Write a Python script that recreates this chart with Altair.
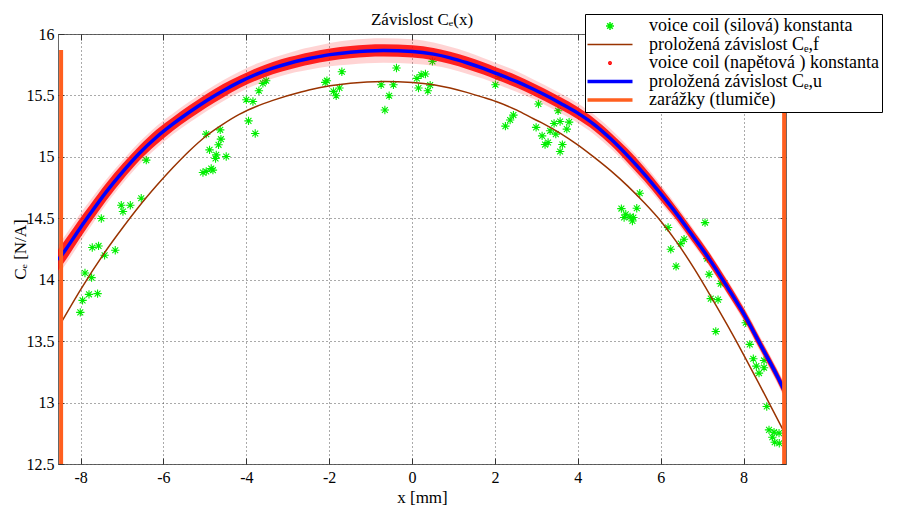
import altair as alt
import pandas as pd

# ---------------- data ----------------
# voice coil (force) constant, measured points
green_x = [-6.415, -7.018, -6.80, -6.977, -6.536, -7.50, -7.566, -7.718, -7.163,
           -4.967, -4.63, -4.613, -4.67, -4.888, -4.726, -4.743, -4.485, -4.847, -4.967, -5.047, -4.806,
           -4.0, -3.84, -3.947, -3.785, -3.696, -3.60, -3.52,
           -7.42, -7.894, -7.735, -7.797, -7.59, -7.952, -8.007,
           -2.055, -2.096, -1.896, -1.831, -1.752, -1.694,
           -0.746, -0.449, -0.553, -0.656, -0.376,
           0.116, 0.22, 0.323, 0.155, 0.381, 0.437, 0.492,
           2.012, 2.10, 3.05, 2.446, 2.367, 2.253, 2.994, 3.139, 3.21,
           3.525, 3.428, 3.573, 3.79, 3.332, 3.469, 3.735, 3.283, 3.628, 3.573,
           5.495, 5.052, 5.423, 5.158, 5.262, 5.342, 5.318, 5.118,
           6.179, 7.071, 6.565, 6.485, 6.244, 6.372,
           7.127, 7.168, 7.45, 7.209, 7.385, 7.33,
           8.053, 8.15, 8.236, 8.495, 8.309, 8.495, 8.374, 8.56,
           8.615, 8.736, 8.857, 8.695, 8.752, 8.863]
green_y = [14.973, 14.606, 14.606, 14.555, 14.663, 14.498, 14.275, 14.262, 14.24,
           15.185, 15.22, 15.144, 15.098, 15.057, 15.016, 14.987, 15.003, 14.905, 14.881, 14.873, 14.892,
           15.465, 15.451, 15.293, 15.19, 15.538, 15.598, 15.62,
           14.199, 14.055, 14.017, 13.881, 13.887, 13.832, 13.734,
           15.62, 15.606, 15.533, 15.497, 15.56, 15.693,
           15.587, 15.587, 15.497, 15.381, 15.723,
           15.639, 15.668, 15.674, 15.56, 15.538, 15.584, 15.777,
           15.587, 15.655, 15.43, 15.34, 15.30, 15.25, 15.24, 15.171, 15.10,
           15.375, 15.272, 15.288, 15.283, 15.212, 15.185, 15.226, 15.117, 15.10, 15.044,
           14.704, 14.579, 14.582, 14.533, 14.511, 14.506, 14.478, 14.506,
           14.425, 14.465, 14.329, 14.294, 14.248, 14.109,
           14.172, 14.044, 13.968, 13.846, 13.838, 13.579,
           13.65, 13.474, 13.357, 13.343, 13.297, 13.284, 13.24, 12.968,
           12.778, 12.759, 12.751, 12.718, 12.677, 12.669]

# fitted curve C_e,f
fitf_x = [-8.47, -7.98, -7.38, -6.98, -6.58, -6.17, -5.77, -5.37, -4.97, -4.56, -4.16,
          -3.76, -3.36, -2.68, -2.49, -1.98, -1.49, -0.69, 0.01, 0.52, 0.92, 1.32, 1.72,
          2.01, 2.53, 2.93, 3.2, 3.59, 3.99, 4.39, 4.80, 5.20, 5.60, 6.00, 6.40, 6.81,
          7.21, 7.61, 8.01, 8.41, 8.98]
fitf_y = [13.65, 13.93, 14.24, 14.425, 14.60, 14.764, 14.913, 15.05, 15.17, 15.267, 15.348,
          15.41, 15.46, 15.528, 15.544, 15.578, 15.60, 15.614, 15.606, 15.587, 15.56, 15.525, 15.484,
          15.452, 15.38, 15.31, 15.265, 15.19, 15.10, 14.998, 14.886, 14.764, 14.628, 14.478, 14.30, 14.09,
          13.865, 13.63, 13.385, 13.13, 12.76]

# fitted curve C_e,u and half widths of the (voltage) point cloud around it
fitu_x = [-8.54, -8.35, -8.0, -7.78, -7.38, -6.98, -6.58, -6.17, -5.77, -5.37, -4.97, -4.56,
          -4.16, -3.76, -3.36, -2.96, -2.68, -2.49, -1.98, -1.49, -0.69, 0.01, 0.52, 0.92,
          1.32, 1.72, 2.01, 2.53, 2.93, 3.2, 3.59, 3.99, 4.39, 4.80, 5.20, 5.60, 6.00, 6.40,
          6.81, 7.13, 7.61, 8.01, 8.41, 8.91, 8.98]
fitu_y = [14.16, 14.25, 14.425, 14.53, 14.715, 14.88, 15.03, 15.16, 15.268, 15.365, 15.455, 15.538,
          15.61, 15.672, 15.722, 15.762, 15.786, 15.80, 15.832, 15.852, 15.866, 15.858, 15.836, 15.806,
          15.766, 15.72, 15.682, 15.612, 15.55, 15.505, 15.435, 15.358, 15.265, 15.145, 15.01, 14.862,
          14.70, 14.53, 14.34, 14.19, 13.94, 13.72, 13.47, 13.15, 13.10]
cloud_dense = [0.085, 0.085, 0.08, 0.075, 0.07, 0.065, 0.06, 0.06, 0.055, 0.055, 0.055, 0.055,
               0.05, 0.05, 0.05, 0.05, 0.05, 0.05, 0.05, 0.05, 0.05, 0.05, 0.05, 0.05,
               0.05, 0.05, 0.05, 0.05, 0.05, 0.05, 0.05, 0.05, 0.05, 0.05, 0.055, 0.055, 0.055, 0.05,
               0.05, 0.05, 0.05, 0.045, 0.045, 0.045, 0.045]
cloud_fringe = [0.12, 0.12, 0.115, 0.11, 0.1, 0.095, 0.09, 0.09, 0.085, 0.085, 0.085, 0.085,
                0.085, 0.085, 0.085, 0.085, 0.09, 0.09, 0.095, 0.1, 0.1, 0.1, 0.095, 0.09,
                0.09, 0.085, 0.085, 0.085, 0.08, 0.08, 0.08, 0.08, 0.08, 0.08, 0.08, 0.08, 0.075, 0.07,
                0.065, 0.06, 0.06, 0.06, 0.06, 0.06, 0.06]

# end stops (dampers)
stop_x = [-8.47, 8.98]
stop_lo = [12.5, 12.5]
stop_hi = [15.87, 15.87]

x_ticks = [-8, -6, -4, -2, 0, 2, 4, 6, 8]
y_ticks = [12.5, 13, 13.5, 14, 14.5, 15, 15.5, 16]

labels = ["voice coil (silová) konstanta",
          "proložená závislost Cₑ,f",
          "voice coil (napětová ) konstanta",
          "proložená závislost Cₑ,u",
          "zarážky (tlumiče)"]
colors = ["#00ee00", "#993300", "#ff0000", "#0000ff", "#ff5f1f"]
shapes = ["M-2,0H2M0,-2V2M-1.4,-1.4L1.4,1.4M-1.4,1.4L1.4,-1.4",
          "M-11.25,0H11.25",
          "M-0.6,0A0.6,0.6,0,1,1,0.6,0A0.6,0.6,0,1,1,-0.6,0Z",
          "M-11.25,-0.45H11.25M-11.25,0H11.25M-11.25,0.45H11.25",
          "M-11.25,-0.45H11.25M-11.25,0H11.25M-11.25,0.45H11.25"]

FONT = "Liberation Serif, DejaVu Serif, Times New Roman, serif"

# ---------------- tables ----------------
green_df = pd.DataFrame({"x": green_x, "y": green_y})
fitf_df = pd.DataFrame({"x": fitf_x, "y": fitf_y})
cloud_df = pd.DataFrame({"x": fitu_x, "y": fitu_y, "d": cloud_dense, "f": cloud_fringe})
cloud_df["lo"] = cloud_df["y"] - cloud_df["d"]
cloud_df["hi"] = cloud_df["y"] + cloud_df["d"]
cloud_df["lo2"] = cloud_df["y"] - cloud_df["f"]
cloud_df["hi2"] = cloud_df["y"] + cloud_df["f"]
stop_df = pd.DataFrame({"x": stop_x, "y": stop_lo, "y2": stop_hi})
legend_df = pd.DataFrame({"series": labels, "x": [None] * 5, "y": [None] * 5})

xscale = alt.Scale(domain=[-8.545, 9.025], nice=False, zero=False)
yscale = alt.Scale(domain=[12.5, 16], nice=False, zero=False)

axis_common = dict(labelFont=FONT, labelFontSize=16, labelColor="black",
                   titleFont=FONT, titleFontSize=17, titleFontWeight="normal", titleColor="black",
                   tickColor="#333", tickSize=6, offset=-6, domain=False)

x_bottom = alt.Axis(orient="bottom", values=x_ticks, grid=True, gridDash=[1, 3], gridColor="#444",
                    gridOpacity=0.9, labelPadding=5, title="x [mm]", titlePadding=4,
                    labelExpr="replace(datum.label, '−', '-')", **axis_common)
y_left = alt.Axis(orient="left", values=y_ticks, grid=True, gridDash=[1, 3], gridColor="#444",
                  gridOpacity=0.9, labelPadding=4, format=".1~f", title="Cₑ [N/A]",
                  titleX=-44, titleBaseline="middle",
                  **axis_common)
x_top = alt.Axis(orient="top", values=x_ticks, grid=False, labels=False, title=None,
                 tickColor="#333", tickSize=6, offset=-6, domain=False)
y_right = alt.Axis(orient="right", values=y_ticks, grid=False, labels=False, title=None,
                   tickColor="#333", tickSize=6, offset=-6, domain=False)

green = alt.Chart(green_df).mark_point(
    shape="M-1,0H1M0,-1V1M-0.7,-0.7L0.7,0.7M-0.7,0.7L0.7,-0.7",
    filled=False, size=70, strokeWidth=1.1, color="#00ee00", opacity=1, clip=True
).encode(x=alt.X("x:Q", scale=xscale, axis=x_bottom),
         y=alt.Y("y:Q", scale=yscale, axis=y_left))

brown = alt.Chart(fitf_df).mark_line(color="#993300", strokeWidth=1.5, interpolate="monotone", clip=True).encode(
    x=alt.X("x:Q", scale=xscale, axis=x_top),
    y=alt.Y("y:Q", scale=yscale, axis=y_right))

fringe = alt.Chart(cloud_df).mark_area(color="#ff0000", opacity=0.17, interpolate="monotone", clip=True).encode(
    x=alt.X("x:Q", scale=xscale, axis=None),
    y=alt.Y("lo2:Q", scale=yscale, axis=None), y2="hi2:Q")

dense = alt.Chart(cloud_df).mark_area(color="#ff0000", opacity=0.85, interpolate="monotone", clip=True).encode(
    x=alt.X("x:Q", scale=xscale, axis=None),
    y=alt.Y("lo:Q", scale=yscale, axis=None), y2="hi:Q")

blue = alt.Chart(cloud_df).mark_line(color="#0000ff", strokeWidth=3.5, interpolate="monotone", clip=True).encode(
    x=alt.X("x:Q", scale=xscale, axis=None),
    y=alt.Y("y:Q", scale=yscale, axis=None))

stops = alt.Chart(stop_df).mark_rule(color="#ff5f1f", strokeWidth=4).encode(
    x=alt.X("x:Q", scale=xscale, axis=None),
    y=alt.Y("y:Q", scale=yscale, axis=None), y2="y2:Q")

leg = alt.Legend(title=None, orient="none", legendX=527, legendY=-20,
                 fillColor="white", strokeColor="black", padding=3,
                 labelFont=FONT, labelFontSize=18, labelColor="black", labelLimit=600,
                 rowPadding=0.5, symbolSize=16, symbolStrokeWidth=1.5,
                 symbolOffset=13, labelOffset=30)

legend_layer = alt.Chart(legend_df).mark_point(filled=False, size=16, strokeWidth=1.5, opacity=1, clip=True).encode(
    x=alt.X("x:Q", scale=xscale, axis=None),
    y=alt.Y("y:Q", scale=yscale, axis=None),
    color=alt.Color("series:N", scale=alt.Scale(domain=labels, range=colors), legend=leg),
    shape=alt.Shape("series:N", scale=alt.Scale(domain=labels, range=shapes), legend=leg))

chart = alt.layer(green, brown, fringe, dense, blue, stops, legend_layer).properties(
    width=728, height=430,
    title=alt.TitleParams("Závislost Cₑ(x)", font=FONT, fontSize=17, fontWeight="normal",
                          color="black", offset=-15, anchor="middle", frame="group"),
    padding={"left": 50, "top": 26, "right": 105, "bottom": 45},
    autosize=alt.AutoSizeParams(type="none"),
).configure_view(stroke="#666", strokeWidth=1)

chart.save("out.html", embed_options={"renderer": "svg", "actions": False})
